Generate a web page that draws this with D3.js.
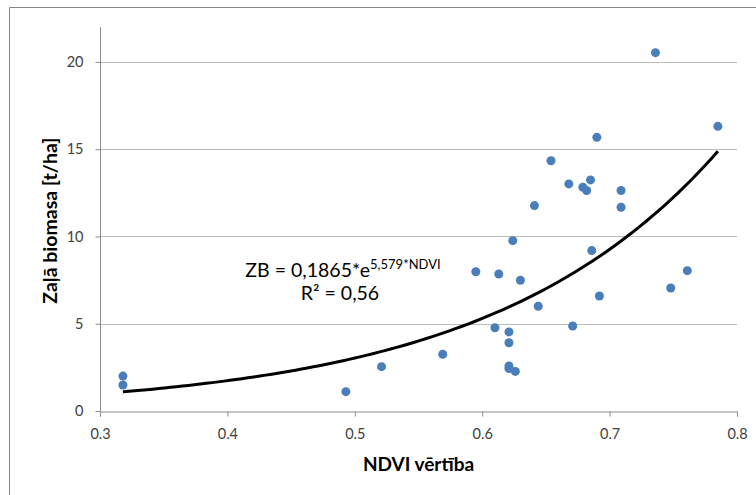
<!DOCTYPE html>
<html>
<head>
<meta charset="utf-8">
<script src="https://cdn.jsdelivr.net/npm/d3@7"></script>
<style>
  body { margin: 0; background: #fff; }
  text { font-family: Lato, "Open Sans", sans-serif; }
</style>
</head>
<body>
<div id="chart"></div>
<script>
// NDVI vs above-ground biomass
var ndvi = [0.318, 0.318, 0.493, 0.521, 0.569, 0.595, 0.610, 0.613, 0.621, 0.621,
            0.621, 0.621, 0.624, 0.626, 0.630, 0.641, 0.644, 0.654, 0.668, 0.671,
            0.679, 0.682, 0.685, 0.686, 0.690, 0.692, 0.709, 0.709, 0.736, 0.748,
            0.761, 0.785];
var biomass = [2.0, 1.49, 1.11, 2.54, 3.25, 7.98, 4.77, 7.85, 4.53, 3.91,
               2.58, 2.43, 9.76, 2.27, 7.49, 11.77, 6.0, 14.34, 13.01, 4.87,
               12.82, 12.63, 13.24, 9.19, 15.68, 6.59, 12.63, 11.67, 20.53, 7.05,
               8.04, 16.31];
var xTicks = [0.3, 0.4, 0.5, 0.6, 0.7, 0.8];
var yTicks = [0, 5, 10, 15, 20];
var fitA = 0.1865, fitB = 5.579;

var w = 756;
var h = 495;
var margin = {left: 100, right: 19, top: 27, bottom: 84};

var xScale = d3.scaleLinear()
    .domain([0.3, 0.8])
    .range([margin.left, w - margin.right]);

var yScale = d3.scaleLinear()
    .domain([0, 22])
    .range([h - margin.bottom, margin.top]);

var svg = d3.select("#chart")
    .append("svg")
    .attr("width", w)
    .attr("height", h);

// outer chart frame (only top and left edges show)
svg.append("path")
    .attr("d", "M9.5," + h + "V7.5H" + w)
    .attr("fill", "none")
    .attr("stroke", "#868686");

// horizontal gridlines
svg.append("g")
    .selectAll("line")
    .data(yTicks.filter(function(d) { return d > 0; }))
    .enter()
    .append("line")
    .attr("x1", xScale(0.3))
    .attr("x2", xScale(0.8))
    .attr("y1", function(d) { return Math.round(yScale(d)) + 0.5; })
    .attr("y2", function(d) { return Math.round(yScale(d)) + 0.5; })
    .attr("stroke", "#bdbdbd");

// axes
var xAxis = svg.append("g")
    .attr("transform", "translate(0," + (Math.round(yScale(0)) + 0.5) + ")")
    .call(d3.axisBottom(xScale).tickValues(xTicks).tickSize(5).tickPadding(12)
        .tickFormat(d3.format(".1f")));

var yAxis = svg.append("g")
    .attr("transform", "translate(" + (Math.round(xScale(0.3)) + 0.5) + ",0)")
    .call(d3.axisLeft(yScale).tickValues(yTicks).tickSize(5).tickPadding(12));

[xAxis, yAxis].forEach(function(a) {
    a.select(".domain").attr("stroke", "#8c8c8c");
    a.selectAll(".tick line").attr("stroke", "#8c8c8c");
    a.selectAll(".tick text")
        .attr("fill", "#404040")
        .style("font-size", "14.5px")
        .style("font-family", "Lato, sans-serif");
});
yAxis.select(".domain").attr("d", "M0," + yScale(22) + "V" + yScale(0));

// trend line
var fitX = d3.range(0, 101).map(function(i) {
    return d3.min(ndvi) + (d3.max(ndvi) - d3.min(ndvi)) * i / 100;
});
var line = d3.line()
    .x(function(d) { return xScale(d); })
    .y(function(d) { return yScale(fitA * Math.exp(fitB * d)); });

svg.append("path")
    .datum(fitX)
    .attr("d", line)
    .attr("fill", "none")
    .attr("stroke", "#000")
    .attr("stroke-width", 3);

// points
svg.append("g")
    .selectAll("circle")
    .data(ndvi)
    .enter()
    .append("circle")
    .attr("cx", function(d) { return xScale(d); })
    .attr("cy", function(d, i) { return yScale(biomass[i]); })
    .attr("r", 4.5)
    .attr("fill", "#4a7ebb");

// equation label
var eq = svg.append("text")
    .attr("x", 343)
    .attr("y", 277)
    .attr("text-anchor", "middle")
    .style("font-size", "19.5px")
    .attr("fill", "#000");
eq.append("tspan").text("ZB = 0,1865*e");
eq.append("tspan").attr("dy", -8).style("font-size", "13px").text("5,579*NDVI");

svg.append("text")
    .attr("x", 340)
    .attr("y", 300)
    .attr("text-anchor", "middle")
    .style("font-size", "19.5px")
    .attr("fill", "#000")
    .text("R² = 0,56");

// axis titles
svg.append("text")
    .attr("x", xScale(0.55))
    .attr("y", 471)
    .attr("text-anchor", "middle")
    .style("font-size", "19px")
    .style("font-weight", "bold")
    .text("NDVI vērtība");

svg.append("text")
    .attr("transform", "translate(57," + yScale(10.9) + ") rotate(-90)")
    .attr("text-anchor", "middle")
    .style("font-size", "19.5px")
    .style("font-weight", "bold")
    .text("Zaļā biomasa [t/ha]");
</script>
</body>
</html>
